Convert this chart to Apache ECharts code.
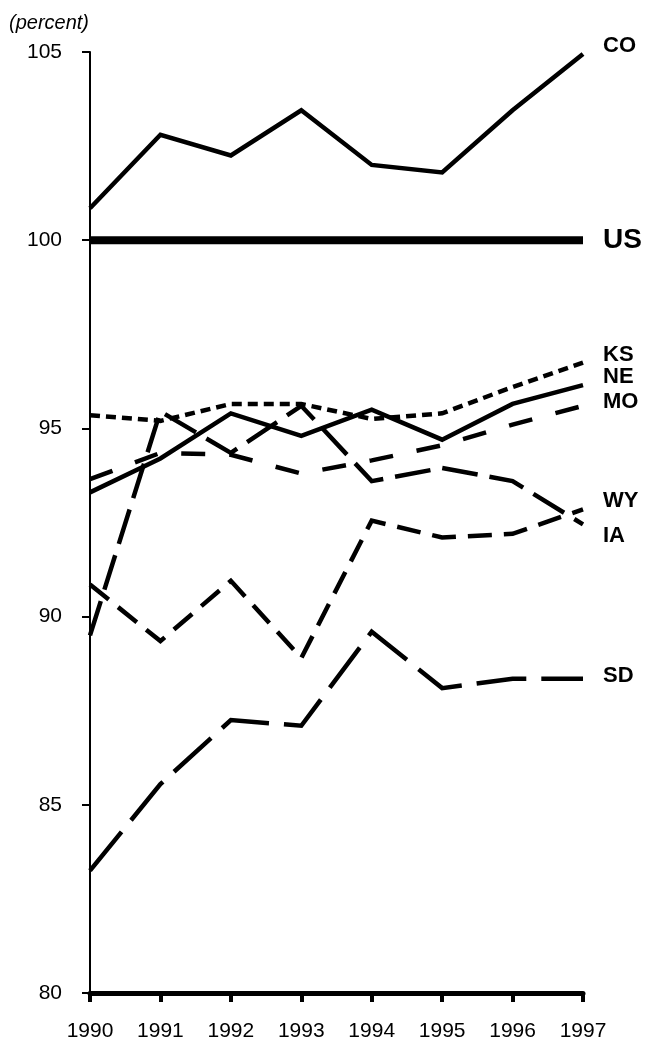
<!DOCTYPE html>
<html>
<head>
<meta charset="utf-8">
<script src="https://cdn.jsdelivr.net/npm/echarts@6/dist/echarts.min.js"></script>
<style>
html,body{margin:0;padding:0;background:#fff;}
#chart{width:645px;height:1045px;}
</style>
</head>
<body>
<div id="chart"></div>
<script>
var years = ['1990','1991','1992','1993','1994','1995','1996','1997'];
var yTicks = [80, 85, 90, 95, 100, 105];
var CO = [100.85, 102.8, 102.25, 103.45, 102.0, 101.8, 103.45, 104.95];
var US = [100, 100, 100, 100, 100, 100, 100, 100];
var KS = [95.35, 95.2, 95.65, 95.65, 95.25, 95.4, 96.1, 96.75];
var NE = [93.3, 94.2, 95.4, 94.8, 95.5, 94.7, 95.65, 96.15];
var MO = [93.65, 94.35, 94.3, 93.8, 94.15, 94.55, 95.1, 95.6];
var IA = [89.5, 95.45, 94.35, 95.6, 93.6, 93.95, 93.6, 92.45];
var WY = [90.85, 89.35, 90.95, 88.9, 92.55, 92.1, 92.2, 92.85];
var SD = [83.25, 85.55, 87.25, 87.1, 89.6, 88.1, 88.35, 88.35];

var FONT = '"Liberation Sans", Arial, sans-serif';
var chart = echarts.init(document.getElementById('chart'), null, {renderer: 'canvas'});

function mk(name, data, width, dash, dy, fs) {
  return {
    name: name, type: 'line', data: data, symbol: 'none', silent: true,
    lineStyle: {color: '#000', width: width, type: dash, cap: 'butt', join: 'miter'},
    endLabel: {
      show: true, formatter: name, distance: 20, offset: [0, dy],
      color: '#000', fontFamily: FONT, fontWeight: 'bold', fontSize: fs || 22
    },
    animation: false
  };
}

chart.setOption({
  animation: false,
  backgroundColor: '#fff',
  title: {
    text: '(percent)', left: 4, top: 8,
    textStyle: {fontFamily: FONT, fontStyle: 'italic', fontWeight: 'normal', fontSize: 20, color: '#000'}
  },
  grid: {left: 90, right: 62, top: 52, bottom: 52},
  xAxis: {
    type: 'category', data: years, boundaryGap: false,
    axisLine: {lineStyle: {color: '#000', width: 5}},
    axisTick: {show: true, alignWithLabel: true, length: 9, lineStyle: {color: '#000', width: 4}},
    axisLabel: {color: '#000', fontFamily: FONT, fontSize: 21, margin: 28, interval: 0},
    splitLine: {show: false}
  },
  yAxis: {
    type: 'value', min: 80, max: 105, interval: 5,
    axisLine: {show: true, lineStyle: {color: '#000', width: 2}},
    axisTick: {show: true, length: 8, lineStyle: {color: '#000', width: 2}},
    axisLabel: {color: '#000', fontFamily: FONT, fontSize: 21, margin: 28,
      formatter: function (v) { return yTicks.indexOf(v) >= 0 ? String(v) : ''; }},
    splitLine: {show: false}
  },
  series: [
    mk('US', US, 8, 'solid', 0, 28),
    mk('CO', CO, 4.5, 'solid', -8),
    mk('KS', KS, 4.5, [10, 6], -8),
    mk('NE', NE, 4.5, 'solid', -8),
    mk('MO', MO, 4.5, [24, 24], -4),
    mk('WY', WY, 4.5, [24, 12], -8),
    mk('IA', IA, 4.5, [36, 12], 12),
    mk('SD', SD, 4.5, [50, 15], -3)
  ]
});
</script>
</body>
</html>
